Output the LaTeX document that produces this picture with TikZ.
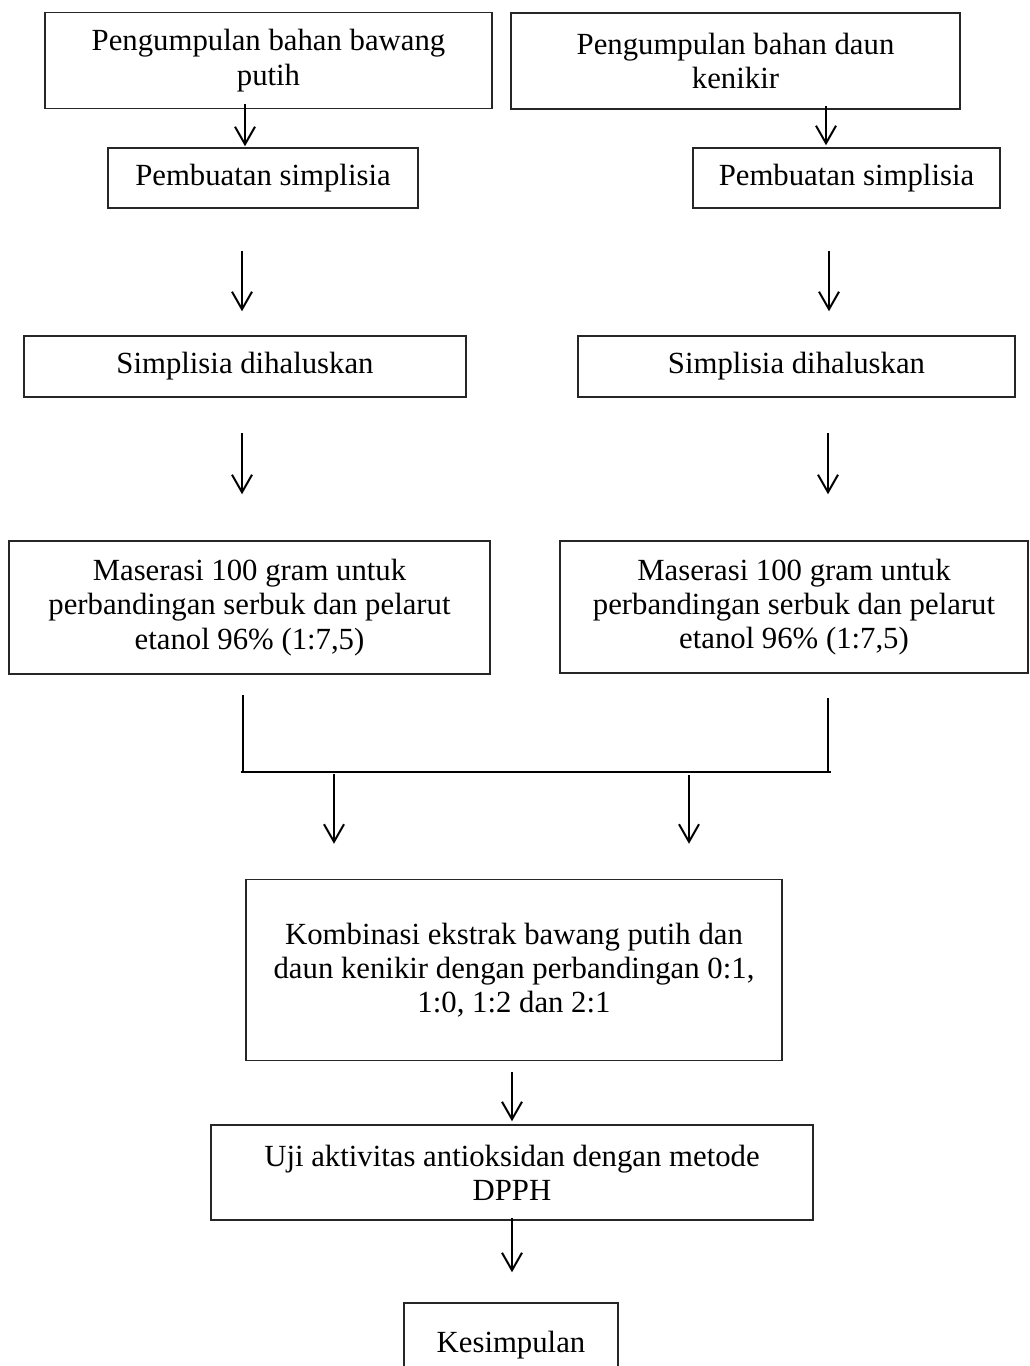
\documentclass[tikz,border=0pt]{standalone}
\usepackage{fontspec}
\setmainfont{Liberation Serif}
\usepackage{tikz}
\usetikzlibrary{arrows.meta}
\tikzset{
  flowbox/.style={draw=black!85,line width=0.6pt,align=center,inner sep=2pt,
    font=\fontsize{12.3}{13.7}\selectfont},
  flowarrow/.style={line width=0.8pt,-{Straight Barb[length=7pt,width=8pt]}},
  flowline/.style={line width=0.8pt}
}

\begin{document}
\begin{tikzpicture}[x=0.4pt,y=-0.4pt]
        \clip (0,0) rectangle (1029,1366);
        \fill[white] (0,0) rectangle (1029,1366);

        % left column
        \node[flowbox,minimum width=178.8pt,minimum height=38.4pt] (bawang) at (268.5,60.5)
          {Pengumpulan bahan bawang\\putih};
        \node[flowbox,minimum width=124pt,minimum height=24pt] (simpA) at (263,178) {Pembuatan simplisia};
        \node[flowbox,minimum width=176.8pt,minimum height=24.4pt] (halusA) at (245,366.5) {Simplisia dihaluskan};
        \node[flowbox,minimum width=192.4pt,minimum height=53.2pt] (maserA) at (249.5,607.5)
          {Maserasi 100 gram untuk\\perbandingan serbuk dan pelarut\\etanol 96\% (1:7,5)};

        % right column
        \node[flowbox,minimum width=179.6pt,minimum height=38.4pt] (kenikir) at (735.5,61)
          {Pengumpulan bahan daun\\kenikir};
        \node[flowbox,minimum width=122.8pt,minimum height=24pt] (simpB) at (846.5,178) {Pembuatan simplisia};
        \node[flowbox,minimum width=174.8pt,minimum height=24.4pt] (halusB) at (796.5,366.5) {Simplisia dihaluskan};
        \node[flowbox,minimum width=187.2pt,minimum height=52.8pt] (maserB) at (794,607)
          {Maserasi 100 gram untuk\\perbandingan serbuk dan pelarut\\etanol 96\% (1:7,5)};

        % combined steps
        \node[flowbox,minimum width=214.4pt,minimum height=72.4pt] (kombi) at (514,970)
          {Kombinasi ekstrak bawang putih dan\\daun kenikir dengan perbandingan 0:1,\\1:0, 1:2 dan 2:1};
        \node[flowbox,minimum width=240.8pt,minimum height=38pt] (uji) at (512,1172.5)
          {Uji aktivitas antioksidan dengan metode\\DPPH};
        \node[flowbox,minimum width=85.6pt,minimum height=33.6pt] (simpul) at (511,1345) {Kesimpulan};

        \coordinate (joinL) at (243,772);
        \coordinate (joinR) at (828,772);

        \draw[flowarrow] ([shift={(-23.5,-5.5)}]bawang.south) -- ([shift={(-18,-1)}]simpA.north);
        \draw[flowarrow] ([shift={(90.5,-4)}]kenikir.south) -- ([shift={(-20.5,-2)}]simpB.north);
        \draw[flowarrow] ([shift={(-21,42)}]simpA.south) -- ([shift={(-3,-24)}]halusA.north);
        \draw[flowarrow] ([shift={(-17.5,42)}]simpB.south) -- ([shift={(32.5,-24)}]halusB.north);
        \draw[flowarrow] ([shift={(-3,35)}]halusA.south) -- ([shift={(-7.5,-46)}]maserA.north);
        \draw[flowarrow] ([shift={(31.5,35)}]halusB.south) -- ([shift={(34,-46)}]maserB.north);

        \draw[flowline] ([shift={(-6.5,20)}]maserA.south) -- (joinL);
        \draw[flowline] ([shift={(34,24)}]maserB.south) -- (joinR);
        \draw[line width=1pt] ([xshift=-1pt]joinL) -- ([xshift=1.2pt]joinR);

        \draw[flowarrow] ([shift={(91,2)}]joinL) -- ([shift={(-180,-35)}]kombi.north);
        \draw[flowarrow] ([shift={(-139,3)}]joinR) -- ([shift={(175,-35)}]kombi.north);
        \draw[flowarrow] ([shift={(-2,11)}]kombi.south) -- ([shift={(0,-3)}]uji.north);
        \draw[flowarrow] ([shift={(0,-3)}]uji.south) -- ([shift={(1,-30)}]simpul.north);
    \end{tikzpicture}
\end{document}
